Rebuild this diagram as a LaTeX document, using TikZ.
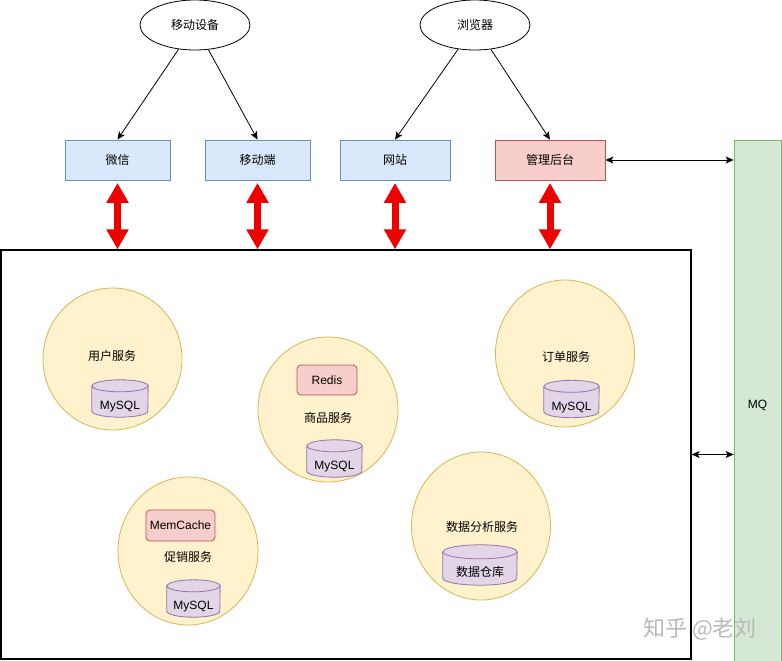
\documentclass[tikz,border=0pt]{standalone}
\usepackage{fontspec}
\setmainfont{Liberation Sans}
\newfontfamily\cjk{Noto Sans CJK SC}
\usetikzlibrary{arrows.meta,shapes.geometric}
\definecolor{bluef}{HTML}{DAE8FC}\definecolor{blued}{HTML}{6C8EBF}
\definecolor{redf}{HTML}{F8CECC}\definecolor{redd}{HTML}{B85450}
\definecolor{greenf}{HTML}{D5E8D4}\definecolor{greend}{HTML}{82B366}
\definecolor{yelf}{HTML}{FFF2CC}\definecolor{yeld}{HTML}{D6B656}
\definecolor{purf}{HTML}{E1D5E7}\definecolor{purd}{HTML}{9673A6}
\definecolor{bigred}{HTML}{EE0000}
\newcommand\dbcyl[3]{%
  \path[dbst] ([yshift=-#3]#1.north west) -- ([yshift=#3]#1.south west)
     arc[start angle=180, end angle=360, x radius=#2, y radius=#3]
     -- ([yshift=-#3]#1.north east)
     arc[start angle=0, end angle=180, x radius=#2, y radius=#3] -- cycle;
  \draw[draw=purd, line width=0.8pt] ([yshift=-#3]#1.north west)
     arc[start angle=180, end angle=360, x radius=#2, y radius=#3];}
\tikzset{
  cjkf/.style={font=\cjk\fontsize{12}{14}\selectfont},
  latf/.style={font=\fontsize{12}{14}\selectfont},
  lbl/.style={cjkf, inner sep=0},
  topell/.style={ellipse, draw=black, fill=white, line width=0.8pt, minimum width=110pt, minimum height=50pt, inner sep=0, cjkf},
  cli/.style={rectangle, draw=blued, fill=bluef, line width=0.8pt, minimum width=105pt, minimum height=40pt, inner sep=0, cjkf},
  admin/.style={cli, draw=redd, fill=redf, minimum width=110pt},
  svc/.style={ellipse, draw=yeld, fill=yelf, line width=0.8pt, inner sep=0},
  cache/.style={rectangle, rounded corners=4pt, draw=redd, fill=redf, line width=0.8pt, inner sep=0, latf},
  dbbody/.style={rectangle, inner sep=0, draw=none},
  dbst/.style={draw=purd, fill=purf, line width=0.8pt},
  dbtxt/.style={inner sep=0, latf},
  conn/.style={-{Stealth[length=8pt,width=7pt,inset=2pt]}, line width=0.8pt},
  biconn/.style={{Stealth[length=8pt,width=7pt,inset=2pt]}-{Stealth[length=8pt,width=7pt,inset=2pt]}, line width=1pt},
  fat/.style={draw=bigred, line width=7pt, {Triangle[length=20pt,width=21pt]}-{Triangle[length=20pt,width=21pt]}},
}
\begin{document}
\begin{tikzpicture}[x=1pt,y=-1pt]
\useasboundingbox[fill=white] (0,0) rectangle (782,661);
% top sources
\node[topell] (mob) at (195,25) {移动设备};
\node[topell] (brw) at (475,25) {浏览器};
% clients
\node[cli] (wx) at (117.5,160) {微信};
\node[cli] (app) at (257.5,160) {移动端};
\node[cli, minimum width=110pt] (web) at (395,160) {网站};
\node[admin] (adm) at (550,160) {管理后台};
% MQ
\node[rectangle, draw=greend, fill=greenf, line width=0.8pt, minimum width=47pt, minimum height=530pt, inner sep=0, latf] (mq) at (757.5,405) {MQ};
% big container
\node[rectangle, draw=black, line width=1.3pt, minimum width=690pt, minimum height=409pt, inner sep=0] (big) at (346,454.5) {};
% services
\node[svc, minimum width=139pt, minimum height=142pt] (usr) at (112.5,359) {};
\node[svc, minimum width=140pt, minimum height=145pt] (gds) at (328,409.5) {};
\node[svc, minimum width=139pt, minimum height=147pt] (ord) at (565,353.5) {};
\node[svc, minimum width=140pt, minimum height=148pt] (prm) at (188,551) {};
\node[svc, minimum width=139pt, minimum height=148pt] (dat) at (481,526) {};
% labels
\node[lbl] (usrl) at (112,356) {用户服务};
\node[lbl] (gdsl) at (328,418) {商品服务};
\node[lbl] (ordl) at (566,357) {订单服务};
\node[lbl] (prml) at (188,557) {促销服务};
\node[lbl] (datl) at (482,527) {数据分析服务};
% caches
\node[cache, minimum width=60pt, minimum height=30pt] (redis) at (327,380) {Redis};
\node[cache, minimum width=69pt, minimum height=31pt] (mem) at (180.5,525.5) {MemCache};
% databases
\node[dbbody, minimum width=56pt, minimum height=37pt] (udb) at (120,398.5) {};
\dbcyl{udb}{28pt}{6pt}
\node[dbtxt] (udbt) at ([yshift=-8.5pt]udb.center) {MySQL};
\node[dbbody, minimum width=55pt, minimum height=37pt] (gdb) at (334.5,458.5) {};
\dbcyl{gdb}{27.5pt}{6pt}
\node[dbtxt] (gdbt) at ([yshift=-8.5pt]gdb.center) {MySQL};
\node[dbbody, minimum width=55pt, minimum height=37pt] (odb) at (571.5,399) {};
\dbcyl{odb}{27.5pt}{6pt}
\node[dbtxt] (odbt) at ([yshift=-8.5pt]odb.center) {MySQL};
\node[dbbody, minimum width=53pt, minimum height=37pt] (pdb) at (193.5,598.5) {};
\dbcyl{pdb}{26.5pt}{6pt}
\node[dbtxt] (pdbt) at ([yshift=-8.5pt]pdb.center) {MySQL};
\node[dbbody, minimum width=74pt, minimum height=40pt] (ddb) at (480,565) {};
\dbcyl{ddb}{37pt}{7pt}
\node[lbl] (ddbt) at ([yshift=-7pt]ddb.center) {数据仓库};
% connectors
\draw[conn] (mob) -- (wx.north);
\draw[conn] (mob) -- (app.north);
\draw[conn] (brw) -- (web.north);
\draw[conn] (brw) -- (adm.north);
\draw[biconn] (adm.east) -- (adm.east -| mq.west);
\draw[biconn] (big.east) -- (big.east -| mq.west);
\foreach \n in {wx,app,web,adm}{
  \draw[fat, shorten <=2.5pt] (\n.south) -- (\n.south |- big.north);
}
% watermark
\node[font=\cjk\fontsize{22}{24}\selectfont, text=gray!55, inner sep=0] (wm) at (700,629) {知乎 @老刘};
\end{tikzpicture}
\end{document}
